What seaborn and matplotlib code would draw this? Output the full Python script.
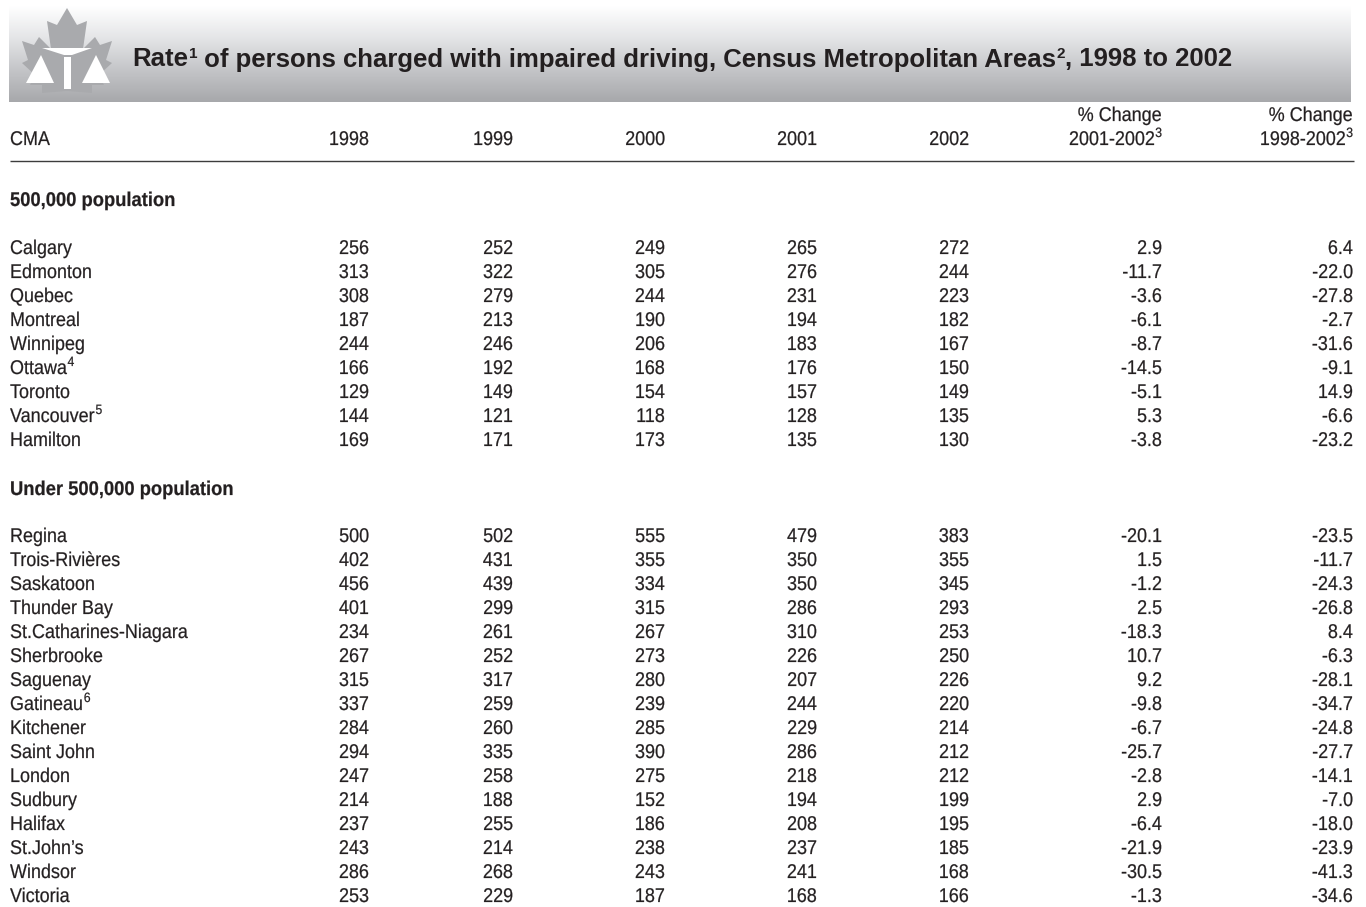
"""
Rate of persons charged with impaired driving, table as a figure
"""

import numpy as np
import pandas as pd
import matplotlib
matplotlib.use('Agg')
import matplotlib.pyplot as plt
import matplotlib.patheffects as pe
from matplotlib.colors import LinearSegmentedColormap
from matplotlib.patches import Polygon
from matplotlib.transforms import Affine2D
import seaborn as sns

sns.set_theme(style='white')

# Data
years = ['1998', '1999', '2000', '2001', '2002']

big_cities = ['Calgary', 'Edmonton', 'Quebec', 'Montreal', 'Winnipeg', 'Ottawa', 'Toronto', 'Vancouver', 'Hamilton']
big_notes = ['', '', '', '', '', '4', '', '5', '']
big_1998 = [256, 313, 308, 187, 244, 166, 129, 144, 169]
big_1999 = [252, 322, 279, 213, 246, 192, 149, 121, 171]
big_2000 = [249, 305, 244, 190, 206, 168, 154, 118, 173]
big_2001 = [265, 276, 231, 194, 183, 176, 157, 128, 135]
big_2002 = [272, 244, 223, 182, 167, 150, 149, 135, 130]
big_chg1 = ['2.9', '-11.7', '-3.6', '-6.1', '-8.7', '-14.5', '-5.1', '5.3', '-3.8']
big_chg2 = ['6.4', '-22.0', '-27.8', '-2.7', '-31.6', '-9.1', '14.9', '-6.6', '-23.2']

small_cities = ['Regina', 'Trois-Rivières', 'Saskatoon', 'Thunder Bay', 'St.Catharines-Niagara', 'Sherbrooke',
                'Saguenay', 'Gatineau', 'Kitchener', 'Saint John', 'London', 'Sudbury', 'Halifax',
                'St.John’s', 'Windsor', 'Victoria']
small_notes = ['', '', '', '', '', '', '', '6', '', '', '', '', '', '', '', '']
small_1998 = [500, 402, 456, 401, 234, 267, 315, 337, 284, 294, 247, 214, 237, 243, 286, 253]
small_1999 = [502, 431, 439, 299, 261, 252, 317, 259, 260, 335, 258, 188, 255, 214, 268, 229]
small_2000 = [555, 355, 334, 315, 267, 273, 280, 239, 285, 390, 275, 152, 186, 238, 243, 187]
small_2001 = [479, 350, 350, 286, 310, 226, 207, 244, 229, 286, 218, 194, 208, 237, 241, 168]
small_2002 = [383, 355, 345, 293, 253, 250, 226, 220, 214, 212, 212, 199, 195, 185, 168, 166]
small_chg1 = ['-20.1', '1.5', '-1.2', '2.5', '-18.3', '10.7', '9.2', '-9.8', '-6.7', '-25.7', '-2.8', '2.9',
              '-6.4', '-21.9', '-30.5', '-1.3']
small_chg2 = ['-23.5', '-11.7', '-24.3', '-26.8', '8.4', '-6.3', '-28.1', '-34.7', '-24.8', '-27.7', '-14.1',
              '-7.0', '-18.0', '-23.9', '-41.3', '-34.6']

big_df = pd.DataFrame({'city': big_cities, 'note': big_notes, '1998': big_1998, '1999': big_1999, '2000': big_2000,
                       '2001': big_2001, '2002': big_2002, 'chg1': big_chg1, 'chg2': big_chg2})
small_df = pd.DataFrame({'city': small_cities, 'note': small_notes, '1998': small_1998, '1999': small_1999,
                         '2000': small_2000, '2001': small_2001, '2002': small_2002, 'chg1': small_chg1,
                         'chg2': small_chg2})

# Layout, in pixels of the 1366x907 picture
col_right = {'1998': 369, '1999': 513, '2000': 665, '2001': 817, '2002': 969, 'chg1': 1162, 'chg2': 1353}
TEXT = '#231f20'
FONT = 'Liberation Sans'
BODY = 14.3
SQUEEZE = 0.905
SQUEEZE_BOLD = 0.925
NOTE_SCALE = 0.68

fig = plt.figure(figsize=(13.66, 9.07), dpi=100)
fig.patch.set_facecolor('white')
ax = fig.add_axes([0, 0, 1, 1])
ax.set_xlim(0, 1366)
ax.set_ylim(907, 0)
ax.axis('off')

# Bandeau du titre
band = fig.add_axes([9 / 1366, 1 - 102 / 907, (1351 - 9) / 1366, 97 / 907])
cmap = LinearSegmentedColormap.from_list('band', ['#ffffff', '#e4e5e7', '#c4c5c8', '#a7a8ab'])
sns.heatmap(np.linspace(0, 1, 97).reshape(-1, 1), ax=band, cmap=cmap, cbar=False, xticklabels=False,
            yticklabels=False, vmin=0, vmax=1)
band.set_zorder(0)
ax.set_zorder(1)
ax.patch.set_alpha(0)

# Logo
leaf = [(67, 8), (77, 25), (87, 21), (83, 49), (95, 37), (100, 45), (112, 41), (106, 60), (112, 63), (99, 75),
        (104, 85), (92, 85), (92, 93), (67, 91), (42, 93), (42, 85), (30, 85), (35, 75), (22, 63), (28, 60),
        (22, 41), (34, 45), (39, 37), (51, 49), (47, 21), (57, 25)]
ax.add_patch(Polygon(leaf, closed=True, fc='#a9aaad', ec='none'))
ax.add_patch(Polygon([(42, 48), (92, 48), (72, 55), (64, 55)], closed=True, fc='white', ec='none'))
ax.add_patch(Polygon([(64, 57), (71, 57), (71, 89), (64, 89)], closed=True, fc='white', ec='none'))
ax.add_patch(Polygon([(41, 55), (54, 83), (26, 83)], closed=True, fc='white', ec='none'))
ax.add_patch(Polygon([(96, 55), (110, 83), (82, 83)], closed=True, fc='white', ec='none'))

renderer = fig.canvas.get_renderer()


class Squeeze(pe.AbstractPathEffect):
    """Pas de police condensée installée: on serre les glyphes autour de x = pivot"""

    def __init__(self, sx, pivot, stroke=0.15):
        super().__init__()
        self.sx = sx
        self.pivot = pivot
        self.stroke = stroke

    def draw_path(self, renderer, gc, tpath, affine, rgbFace=None):
        gc2 = renderer.new_gc()
        gc2.copy_properties(gc)
        gc2.set_linewidth(self.stroke)
        gc2.set_foreground(TEXT)
        squeeze = Affine2D().translate(-self.pivot, 0).scale(self.sx, 1).translate(self.pivot, 0)
        renderer.draw_path(gc2, tpath, affine + squeeze, rgbFace)
        gc2.restore()


def put(x, y, label, ha='left', size=BODY, weight='normal', sx=SQUEEZE):
    # the axes run 0-1366 over 1366 pixels, so x is also the pivot in pixels
    return ax.text(x, y, label, ha=ha, va='baseline', fontsize=size, fontweight=weight, family=FONT, color=TEXT,
                   path_effects=[Squeeze(sx, x)])


def width_of(label, size=BODY, sx=SQUEEZE):
    t = ax.text(0, 0, label, fontsize=size, family=FONT)
    w = t.get_window_extent(renderer).width * sx
    t.remove()
    return w


def put_left(x, y, label, note=''):
    if note:
        end = x + width_of(label)
        put(end, y, label, ha='right')
        put(end + 0.5, y - 8, note, size=BODY * NOTE_SCALE)
    else:
        put(x, y, label)


def put_right(x, y, label, note=''):
    right = x
    if note:
        right = x - width_of(note, BODY * NOTE_SCALE)
        put(right, y - 8, note, size=BODY * NOTE_SCALE)
        right -= 0.5
    put(right, y, label, ha='right')


# Titre, morceau par morceau pour les exposants
TITLE = 18.5
x = 132
for piece, sup in [('Rate', '1'), (' of persons charged with impaired driving, Census Metropolitan Areas', '2'),
                   (', 1998 to 2002', '')]:
    t = ax.text(x, 66.5, piece, ha='left', va='baseline', fontsize=TITLE, fontweight='bold', family=FONT, color=TEXT)
    x = t.get_window_extent(renderer).x1
    if sup:
        s = ax.text(x + 0.5, 58.5, sup, ha='left', va='baseline', fontsize=TITLE * 0.6, fontweight='bold', family=FONT,
                    color=TEXT)
        x = s.get_window_extent(renderer).x1

# En-tête
BASE = 7
put_left(10, 138 + BASE, 'CMA')
for yr in years:
    put_right(col_right[yr], 138 + BASE, yr)
put_right(col_right['chg1'], 114 + BASE, '% Change')
put_right(col_right['chg1'], 138 + BASE, '2001-2002', '3')
put_right(col_right['chg2'], 114 + BASE, '% Change')
put_right(col_right['chg2'], 138 + BASE, '1998-2002', '3')
ax.plot([10, 1354], [160.5, 160.5], color='#3c3c3c', lw=1.0, solid_capstyle='butt')


def draw_section(df, heading, head_y, first_y, step=24):
    put(10, head_y + BASE, heading, weight='bold', sx=SQUEEZE_BOLD)
    for i, row in df.iterrows():
        y = first_y + i * step + BASE
        put_left(10, y, row['city'], row['note'])
        for col, right in col_right.items():
            put_right(right, y, str(row[col]))


draw_section(big_df, '500,000 population', 199, 247)
draw_section(small_df, 'Under 500,000 population', 488, 535)

fig.savefig('out.png', dpi=100, facecolor='white')
